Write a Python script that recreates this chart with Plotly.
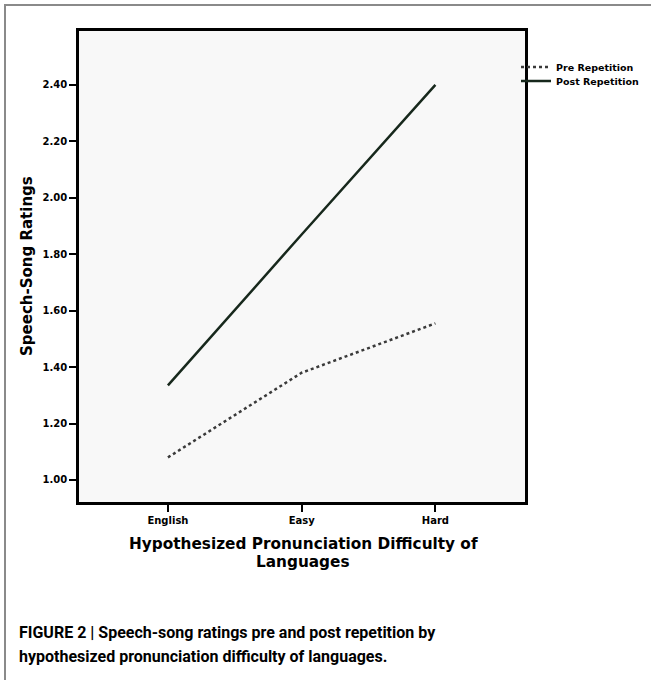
import plotly.graph_objects as go

categories = ["English", "Easy", "Hard"]
pre_repetition = [1.08, 1.38, 1.555]
post_repetition = [1.335, 1.87, 2.40]
y_ticks = [1.00, 1.20, 1.40, 1.60, 1.80, 2.00, 2.20, 2.40]
y_tick_labels = ["1.00", "1.20", "1.40", "1.60", "1.80", "2.00", "2.20", "2.40"]

W, H = 651, 680


def px(x):
    return x / W


def py(y):
    return 1 - y / H


fig = go.Figure()
fig.add_trace(go.Scatter(
    x=categories, y=pre_repetition, mode="lines", name="Pre Repetition",
    line=dict(color="#3a3a3a", width=2.5, dash="dot"), legend="legend",
))
fig.add_trace(go.Scatter(
    x=categories, y=post_repetition, mode="lines", name="Post Repetition",
    line=dict(color="#17281c", width=2.5), legend="legend2",
))

leg_font = dict(family="DejaVu Sans", size=9.5, color="black", weight="bold")

fig.update_layout(
    width=W, height=H,
    margin=dict(l=0, r=0, t=0, b=0),
    paper_bgcolor="white",
    plot_bgcolor="#f8f8f8",
    showlegend=True,
    legend=dict(
        x=px(516), y=py(67), xanchor="left", yanchor="middle",
        font=leg_font, bgcolor="rgba(0,0,0,0)", itemwidth=30,
    ),
    legend2=dict(
        x=px(516), y=py(81), xanchor="left", yanchor="middle",
        font=leg_font, bgcolor="rgba(0,0,0,0)", itemwidth=30,
    ),
    xaxis=dict(
        domain=[px(79), px(525)],
        range=[-0.665, 2.67],
        showline=True, mirror=True, linecolor="black", linewidth=2.5,
        ticks="outside", ticklen=7, tickwidth=2, tickcolor="black",
        showgrid=False, zeroline=False,
        tickfont=dict(family="DejaVu Sans", size=10, color="black", weight="bold"),
    ),
    yaxis=dict(
        domain=[py(502), py(31)],
        range=[0.922, 2.591],
        tickvals=y_ticks, ticktext=y_tick_labels,
        showline=True, mirror=True, linecolor="black", linewidth=2.5,
        ticks="outside", ticklen=7, tickwidth=2, tickcolor="black",
        showgrid=False, zeroline=False,
        tickfont=dict(family="DejaVu Sans", size=10, color="black", weight="bold"),
    ),
)

# outer figure frame (top and left edges visible)
fig.add_shape(type="rect", xref="paper", yref="paper",
              x0=px(5), y0=py(5), x1=1.05, y1=-0.05,
              line=dict(color="#8a8a8a", width=2), layer="below")

fig.add_annotation(
    text="Speech-Song Ratings", xref="paper", yref="paper",
    x=px(27), y=py(266), xanchor="center", yanchor="middle",
    textangle=-90, showarrow=False,
    font=dict(family="DejaVu Sans", size=15, color="black", weight="bold"),
)
xt_font = dict(family="DejaVu Sans", size=15.3, color="black", weight="bold")
fig.add_annotation(
    text="Hypothesized Pronunciation Difficulty of",
    xref="paper", yref="paper", x=px(303), y=py(544),
    xanchor="center", yanchor="middle", showarrow=False, font=xt_font,
)
fig.add_annotation(
    text="Languages",
    xref="paper", yref="paper", x=px(303), y=py(562),
    xanchor="center", yanchor="middle", showarrow=False, font=xt_font,
)
cap_font = dict(family="Roboto, Liberation Sans, sans-serif", size=16, color="black", weight="bold")
fig.add_annotation(
    text="FIGURE 2 | Speech-song ratings pre and post repetition by",
    xref="paper", yref="paper", x=px(17), y=py(632),
    xanchor="left", yanchor="middle", showarrow=False, font=cap_font,
)
fig.add_annotation(
    text="hypothesized pronunciation difficulty of languages.",
    xref="paper", yref="paper", x=px(17), y=py(656),
    xanchor="left", yanchor="middle", showarrow=False, font=cap_font,
)

fig.write_html("out.html", config={"displayModeBar": False},
               post_script="document.body.style.margin='0';")
